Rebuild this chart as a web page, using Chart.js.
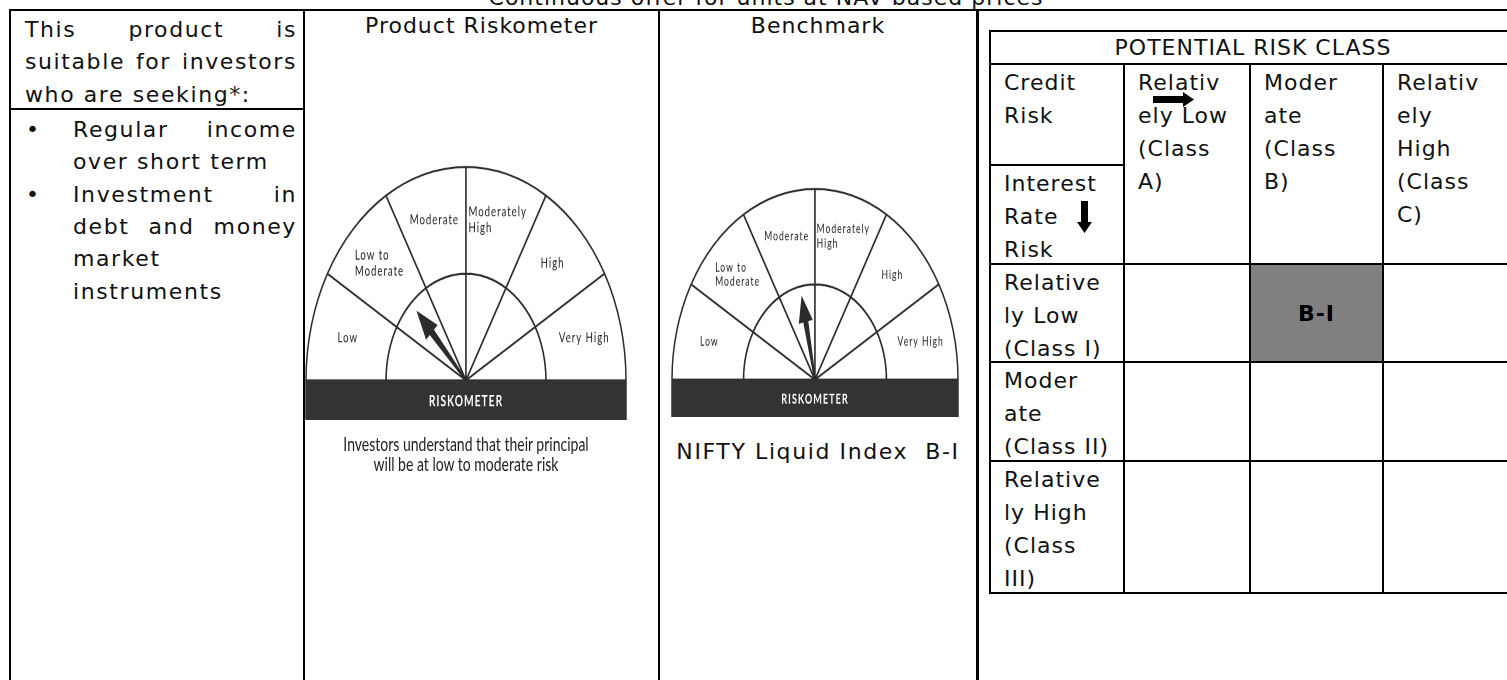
<!DOCTYPE html>
<html>
<head>
<meta charset="utf-8">
<title>Riskometer</title>
<script src="https://cdn.jsdelivr.net/npm/chart.js@4.4.1/dist/chart.umd.min.js"></script>
<style>
  html, body { margin: 0; padding: 0; background: #fff; }
  body {
    width: 1507px; height: 680px; overflow: hidden; position: relative;
    font-family: "DejaVu Sans", sans-serif; font-size: 22px; letter-spacing: 1px; color: #111;
  }
  .line { position: absolute; background: #000; }
  .txt { position: absolute; line-height: 33px; white-space: nowrap; }
  .wide { letter-spacing: 1.6px; }
  .just { text-align: justify; text-align-last: justify; }
  .meter { position: absolute; transform: scaleY(1.3333); transform-origin: 0 0; }
  .meter canvas { display: block; }
  .cap { font-family: Lato, sans-serif; letter-spacing: 0; color: #222; text-align: center;
         font-size: 14px; line-height: 15px; margin-top: 10px; }
  .cell { position: absolute; box-sizing: border-box; border: 2px solid #000;
          padding: 1px 2px 0 13px; line-height: 33px; white-space: nowrap; }
</style>
</head>
<body>
<div id="page"></div>
<script>
// Texts and values
const titleText = 'Continuous offer for units at NAV based prices';
const columnHeads = ['Product Riskometer', 'Benchmark'];
const suitabilityIntro = ['This product is', 'suitable for investors', 'who are seeking*:'];
const suitabilityPoints = [
  ['Regular income', 'over short term'],
  ['Investment in', 'debt and money', 'market', 'instruments']
];

// Riskometer dial: six equal levels
const riskLevels = ['Low', 'Low to Moderate', 'Moderate', 'Moderately High', 'High', 'Very High'];
const riskLabelLines = [['Low'], ['Low to', 'Moderate'], ['Moderate'], ['Moderately', 'High'], ['High'], ['Very High']];
const levelShares = [1, 1, 1, 1, 1, 1];
const productNeedle = 1.55;    // position on the dial, in levels from the left
const benchmarkNeedle = 2.6;
const productCaption = ['Investors understand that their principal', 'will be at low to moderate risk'];
const benchmarkName = 'NIFTY Liquid Index  B-I';

// Potential risk class matrix
const prcTitle = 'POTENTIAL RISK CLASS';
const creditRiskLabel = ['Credit', 'Risk'];
const interestRiskLabel = ['Interest', 'Rate', 'Risk'];
const creditClasses = [['Relativ', 'ely Low', '(Class', 'A)'], ['Moder', 'ate', '(Class', 'B)'], ['Relativ', 'ely', 'High', '(Class', 'C)']];
const interestClasses = [['Relative', 'ly Low', '(Class I)'], ['Moder', 'ate', '(Class II)'], ['Relative', 'ly High', '(Class', 'III)']];
const schemeCredit = 1;     // Moderate (Class B)
const schemeInterest = 0;   // Relatively Low (Class I)
const schemeLabel = 'B-I';

const page = document.getElementById('page');

function add(cls, css, text) {
  const d = document.createElement('div');
  d.className = cls;
  Object.assign(d.style, css);
  if (text != null) d.textContent = text;
  page.appendChild(d);
  return d;
}
const px = v => v + 'px';
function hline(x1, x2, y, w) { add('line', { left: px(x1), top: px(y - w / 2), width: px(x2 - x1), height: px(w) }); }
function vline(x, y1, y2, w) { add('line', { left: px(x - w / 2), top: px(y1), width: px(w), height: px(y2 - y1) }); }

// Outer frame
hline(9, 1507, 10, 2);
vline(10, 9, 680, 2);
vline(304, 10, 680, 2);
vline(659, 10, 680, 2);
vline(977, 10, 680, 3);
hline(10, 304, 109, 2);

add('txt', { left: '266px', width: '1000px', top: '-19px', textAlign: 'center' }, titleText);

// Left column: suitability text
const lh = 32.3;
suitabilityIntro.forEach((t, i) => {
  const last = i === suitabilityIntro.length - 1;
  add('txt wide' + (last ? '' : ' just'), { left: '25px', width: '272px', top: px(13 + lh * i) }, t);
});
let row = 0;
suitabilityPoints.forEach(lines => {
  add('txt', { left: '26px', top: px(113 + lh * row) }, '\u2022');
  lines.forEach((t, j) => {
    const last = j === lines.length - 1;
    add('txt wide' + (last ? '' : ' just'), { left: '73px', width: '224px', top: px(113 + lh * row) }, t);
    row++;
  });
});

// Column heads
add('txt', { left: '304px', width: '355px', top: '9px', textAlign: 'center' }, columnHeads[0]);
add('txt', { left: '659px', width: '318px', top: '9px', textAlign: 'center' }, columnHeads[1]);

// Riskometer drawing: labels, base bar and needle on top of the doughnut
const meterPlugin = {
  id: 'meter',
  afterDatasetsDraw(chart, args, opts) {
    const ctx = chart.ctx;
    const arcs = chart.getDatasetMeta(0).data;
    const cx = arcs[0].x, cy = arcs[0].y, R = arcs[0].outerRadius;
    const tall = 1.15;   // the dial artwork uses a narrow face
    ctx.save();

    const fs = R * 0.06;
    ctx.fillStyle = '#222';
    ctx.font = fs + 'px Lato, sans-serif';
    ctx.textBaseline = 'middle';
    ctx.textAlign = 'left';
    arcs.forEach((arc, i) => {
      const p = arc.getCenterPoint();
      const x = cx + (p.x - cx) * 1.02, y = cy + (p.y - cy) * 1.04;
      const lines = riskLabelLines[i];
      const w = Math.max(...lines.map(l => ctx.measureText(l).width));
      const step = fs * 1.25;
      lines.forEach((l, j) => {
        ctx.save();
        ctx.translate(x - w / 2, y + (j - (lines.length - 1) / 2) * step);
        ctx.scale(1, tall);
        ctx.fillText(l, 0, 0);
        ctx.restore();
      });
    });

    ctx.fillStyle = '#333';
    ctx.fillRect(cx - R - 0.75, cy, 2 * R + 1.5, opts.barH);
    ctx.fillStyle = '#fff';
    ctx.textAlign = 'center';
    ctx.font = 'bold ' + (R * 0.064) + 'px Lato, sans-serif';
    ctx.save();
    ctx.translate(cx, cy + opts.barH / 2 + 0.5);
    ctx.scale(1, tall);
    ctx.fillText('RISKOMETER', 0, 0);
    ctx.restore();

    // needle
    const th = Math.PI - opts.needle * Math.PI / riskLevels.length;
    const ux = Math.cos(th), uy = -Math.sin(th);
    const nx = -uy, ny = ux;
    const L = 0.45 * R, hl = 0.14 * R, hh = 0.05 * R, st = 0.018 * R, sb = 0.006 * R;
    const at = (d, s) => [cx + ux * d + nx * s, cy + uy * d + ny * s];
    const pts = [at(0, sb), at(L - hl, st), at(L - hl, hh), at(L, 0), at(L - hl, -hh), at(L - hl, -st), at(0, -sb)];
    ctx.fillStyle = '#2b2b2b';
    ctx.beginPath();
    pts.forEach((p, i) => i ? ctx.lineTo(p[0], p[1]) : ctx.moveTo(p[0], p[1]));
    ctx.closePath();
    ctx.fill();
    ctx.restore();
  }
};

function makeMeter(cx, baseline, R, barH, needle, caption) {
  const pad = 3, sy = 1.3333;
  const wrap = add('meter', { left: px(cx - R - pad), top: px(baseline - (R + pad) * sy) });
  const canvas = document.createElement('canvas');
  canvas.width = 2 * R + 2 * pad;
  canvas.height = R + pad + barH;
  wrap.appendChild(canvas);
  if (caption) {
    const c = document.createElement('div');
    c.className = 'cap';
    c.style.width = px(canvas.width);
    c.innerHTML = caption.join('<br>');
    wrap.appendChild(c);
  }
  const ring = () => ({ data: levelShares, backgroundColor: '#fff', borderColor: '#2d2d2d', borderWidth: 1.5 });
  new Chart(canvas, {
    type: 'doughnut',
    data: { labels: riskLevels, datasets: [ring(), ring()] },
    options: {
      responsive: false,
      animation: false,
      devicePixelRatio: 2,
      events: [],
      rotation: -90,
      circumference: 180,
      cutout: 0,
      radius: R,
      layout: { padding: { top: pad, left: pad, right: pad, bottom: barH } },
      plugins: {
        legend: { display: false },
        tooltip: { enabled: false },
        meter: { needle: needle, barH: barH }
      }
    },
    plugins: [meterPlugin]
  });
}

makeMeter(466, 380, 160, 30, productNeedle, productCaption);
makeMeter(815, 380, 143, 28, benchmarkNeedle, null);
add('txt wide', { left: '659px', width: '318px', top: '435px', textAlign: 'center', whiteSpace: 'pre' }, benchmarkName);

// Potential risk class matrix
const colEdges = [990, 1124, 1250, 1383, 1516];
const rowEdges = [31, 64, 165, 264, 362, 461, 593];
function cell(c1, r1, c2, r2, lines, css) {
  const d = add('cell', Object.assign({
    left: px(colEdges[c1] - 1), top: px(rowEdges[r1] - 1),
    width: px(colEdges[c2] - colEdges[c1] + 2), height: px(rowEdges[r2] - rowEdges[r1] + 2)
  }, css || {}));
  d.innerHTML = lines.join('<br>');
  return d;
}
cell(0, 0, 4, 1, [prcTitle], { textAlign: 'center', padding: '0', lineHeight: '32px' });
cell(0, 1, 1, 2, creditRiskLabel);
cell(0, 2, 1, 3, interestRiskLabel);
creditClasses.forEach((lines, i) => cell(i + 1, 1, i + 2, 3, lines));
interestClasses.forEach((lines, r) => {
  cell(0, r + 3, 1, r + 4, lines);
  creditClasses.forEach((_, c) => {
    const hit = c === schemeCredit && r === schemeInterest;
    cell(c + 1, r + 3, c + 2, r + 4, hit ? [schemeLabel] : [], hit ? {
      background: '#808080', fontWeight: 'bold', textAlign: 'center', padding: '0',
      display: 'flex', alignItems: 'center', justifyContent: 'center', color: '#000'
    } : null);
  });
});

// Direction arrows in the matrix heading
function arrow(left, top, w, h, points) {
  const d = add('line', { left: px(left), top: px(top), width: px(w), height: px(h), background: 'none' });
  d.innerHTML = '<svg width="' + w + '" height="' + h + '"><polygon fill="#000" points="' + points + '"/></svg>';
}
arrow(1153, 87, 42, 15, '0,4 30,4 30,0 41,7.5 30,15 30,11 0,11');
arrow(1077, 201, 15, 32, '4,0 11,0 11,21 15,21 7.5,32 0,21 4,21');
</script>
</body>
</html>
